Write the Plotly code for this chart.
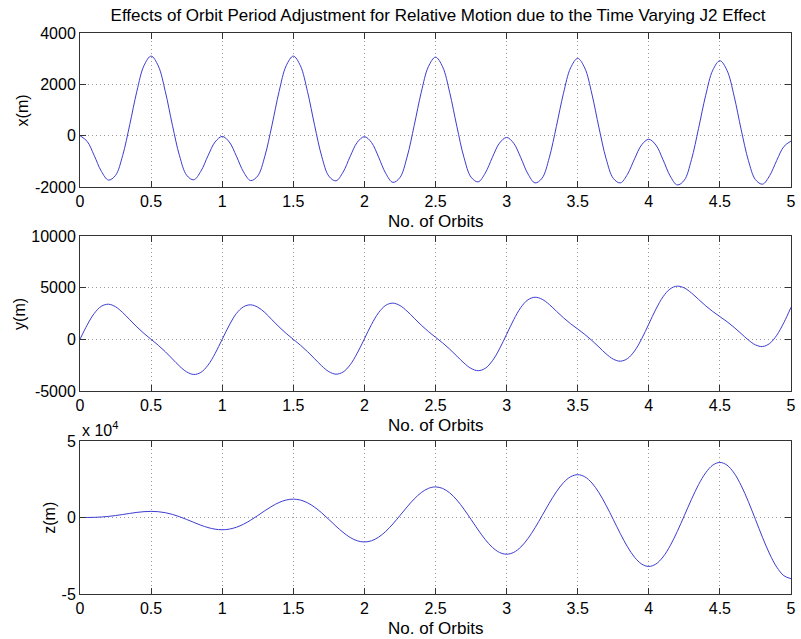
import numpy as np
import plotly.graph_objects as go

# Time axis: number of orbits, sampled every 0.05 orbit
orbits = np.linspace(0, 5, 101)

# Radial relative position x (m)
x_m = [
    0, -220, -774, -1387, -1730, -1547, -774, 432, 1733, 2728, 3100, 2724, 1720, 406, -786, -1541, -1720, -1385, -786, -245, -30,
    -248, -799, -1410, -1750, -1568, -799, 406, 1720, 2724, 3100, 2723, 1715, 398, -809, -1578, -1760, -1420, -809, -258, -40,
    -266, -836, -1468, -1820, -1632, -836, 392, 1693, 2688, 3060, 2684, 1680, 366, -844, -1617, -1800, -1457, -844, -290, -70,
    -295, -861, -1489, -1840, -1653, -861, 359, 1652, 2640, 3010, 2632, 1621, 299, -900, -1661, -1840, -1504, -900, -356, -140,
    -366, -936, -1568, -1920, -1732, -936, 286, 1571, 2553, 2920, 2544, 1540, 226, -961, -1712, -1890, -1557, -961, -423, -210,
]

# Along-track relative position y (m)
y_m = [
    0, 1376, 2504, 3200, 3399, 3150, 2593, 1896, 1200, 570, 0, -570, -1200, -1896, -2593, -3150, -3399, -3200, -2504, -1376, 0,
    1376, 2504, 3150, 3340, 3110, 2593, 1896, 1200, 570, 0, -565, -1190, -1881, -2573, -3125, -3369, -3165, -2464, -1331, 50,
    1438, 2579, 3290, 3504, 3270, 2728, 2048, 1370, 755, 200, -345, -950, -1618, -2288, -2815, -3034, -2805, -2079, -924, 480,
    1901, 3079, 3825, 4074, 3875, 3373, 2726, 2085, 1510, 1000, 475, -110, -756, -1408, -1915, -2114, -1865, -1124, 54, 1480,
    2921, 4114, 4880, 5149, 4970, 4488, 3866, 3245, 2690, 2200, 1710, 1160, 549, -63, -535, -699, -400, 396, 1624, 3100,
]

# Cross-track relative position z (m)
z_m = [
    0, 13, 101, 324, 716, 1273, 1952, 2676, 3337, 3816, 3999, 3790, 3134, 2027, 519, -1273, -3188, -5027, -6572, -7620, -7998,
    -7594, -6369, -4379, -1755, 1273, 4424, 7379, 9808, 11423, 11998, 11397, 9605, 6730, 2991, -1273, -5659, -9731, -13043, -15226, -15997,
    -15200, -12840, -9082, -4227, 1273, 6895, 12082, 16278, 19030, 19996, 19003, 16076, 11433, 5463, -1273, -8131, -14434, -19514, -22833, -23996,
    -22807, -19311, -13785, -6698, 1273, 9367, 16785, 22749, 26636, 27995, 26610, 22546, 16137, 7934, -1273, -10602, -19137, -25985, -30439, -31994,
    -30413, -25782, -18488, -9170, 1273, 11838, 21489, 29220, 34243, 35993, 34217, 29017, 20840, 10406, -1273, -13074, -23840, -32456, -38046, -39993,
]

x_ticks = [0, 0.5, 1, 1.5, 2, 2.5, 3, 3.5, 4, 4.5, 5]
x_ticktext = ["0", "0.5", "1", "1.5", "2", "2.5", "3", "3.5", "4", "4.5", "5"]
y1_ticks = [-2000, 0, 2000, 4000]
y1_text = ["-2000", "0", "2000", "4000"]
y2_ticks = [-5000, 0, 5000, 10000]
y2_text = ["-5000", "0", "5000", "10000"]
y3_ticks = [-50000, 0, 50000]
y3_text = ["-5", "0", "5"]

FONT = "Liberation Sans, Arial, Helvetica, sans-serif"
LINE = dict(color="#3c3cd2", width=1, shape="spline", smoothing=1.0)

fig = go.Figure()
fig.add_trace(go.Scatter(x=orbits, y=x_m, mode="lines", line=LINE, xaxis="x", yaxis="y"))
fig.add_trace(go.Scatter(x=orbits, y=y_m, mode="lines", line=LINE, xaxis="x2", yaxis="y2"))
fig.add_trace(go.Scatter(x=orbits, y=z_m, mode="lines", line=LINE, xaxis="x3", yaxis="y3"))

axis_common = dict(
    showline=True, linecolor="#333333", linewidth=1, mirror="ticks",
    ticks="inside", ticklen=6, tickcolor="#333333", tickwidth=1,
    showgrid=True, gridcolor="#9a9a9a", griddash="1px,3px", gridwidth=1,
    zeroline=False, tickfont=dict(family=FONT, size=16, color="black"),
)

def xax(anchor):
    return dict(axis_common, range=[0, 5], tickvals=x_ticks, ticktext=x_ticktext,
                anchor=anchor, domain=[0, 1])

# paper spans y pixels 33..594 (height 561)
dom1 = [(594 - 187) / 561, 1.0]
dom2 = [(594 - 391) / 561, (594 - 236) / 561]
dom3 = [0.0, (594 - 441) / 561]

fig.update_layout(
    width=801, height=639,
    margin=dict(l=80, r=5, t=33, b=45),
    paper_bgcolor="white", plot_bgcolor="white",
    showlegend=False,
    font=dict(family=FONT, size=16, color="black"),
    xaxis=xax("y"), xaxis2=xax("y2"), xaxis3=xax("y3"),
    yaxis=dict(axis_common, range=[-2000, 4000], tickvals=y1_ticks, ticktext=y1_text, domain=dom1, anchor="x"),
    yaxis2=dict(axis_common, range=[-5000, 10000], tickvals=y2_ticks, ticktext=y2_text, domain=dom2, anchor="x2"),
    yaxis3=dict(axis_common, range=[-50000, 50000], tickvals=y3_ticks, ticktext=y3_text, domain=dom3, anchor="x3"),
    title=dict(
        text="Effects of Orbit Period Adjustment for Relative Motion due to the Time Varying J2 Effect",
        x=438 / 801, xanchor="center", y=1 - 15 / 639, yanchor="middle",
        xref="container", yref="container", font=dict(family=FONT, size=17, color="black"),
    ),
)

annotations = []
for yref in ["y domain", "y2 domain", "y3 domain"]:
    annotations.append(dict(text="No. of Orbits", xref="paper", x=0.5, yref=yref, y=0,
                            xanchor="center", yanchor="middle", yshift=-34, showarrow=False,
                            font=dict(family=FONT, size=17, color="black")))

ylabels = [("x(m)", "y domain", 22), ("y(m)", "y2 domain", 19), ("z(m)", "y3 domain", 49)]
for text, yref, px in ylabels:
    annotations.append(dict(text=text, xref="paper", x=(px - 80) / 716, yref=yref, y=0.5,
                            xanchor="center", yanchor="middle", textangle=-90, showarrow=False,
                            font=dict(family=FONT, size=16, color="black")))

annotations.append(dict(text="x 10<sup>4</sup>", xref="paper", x=0, yref="y3 domain", y=1,
                        xanchor="left", yanchor="bottom", yshift=0, showarrow=False,
                        font=dict(family=FONT, size=16, color="black")))

fig.update_layout(annotations=annotations)

fig.write_html("out.html")
